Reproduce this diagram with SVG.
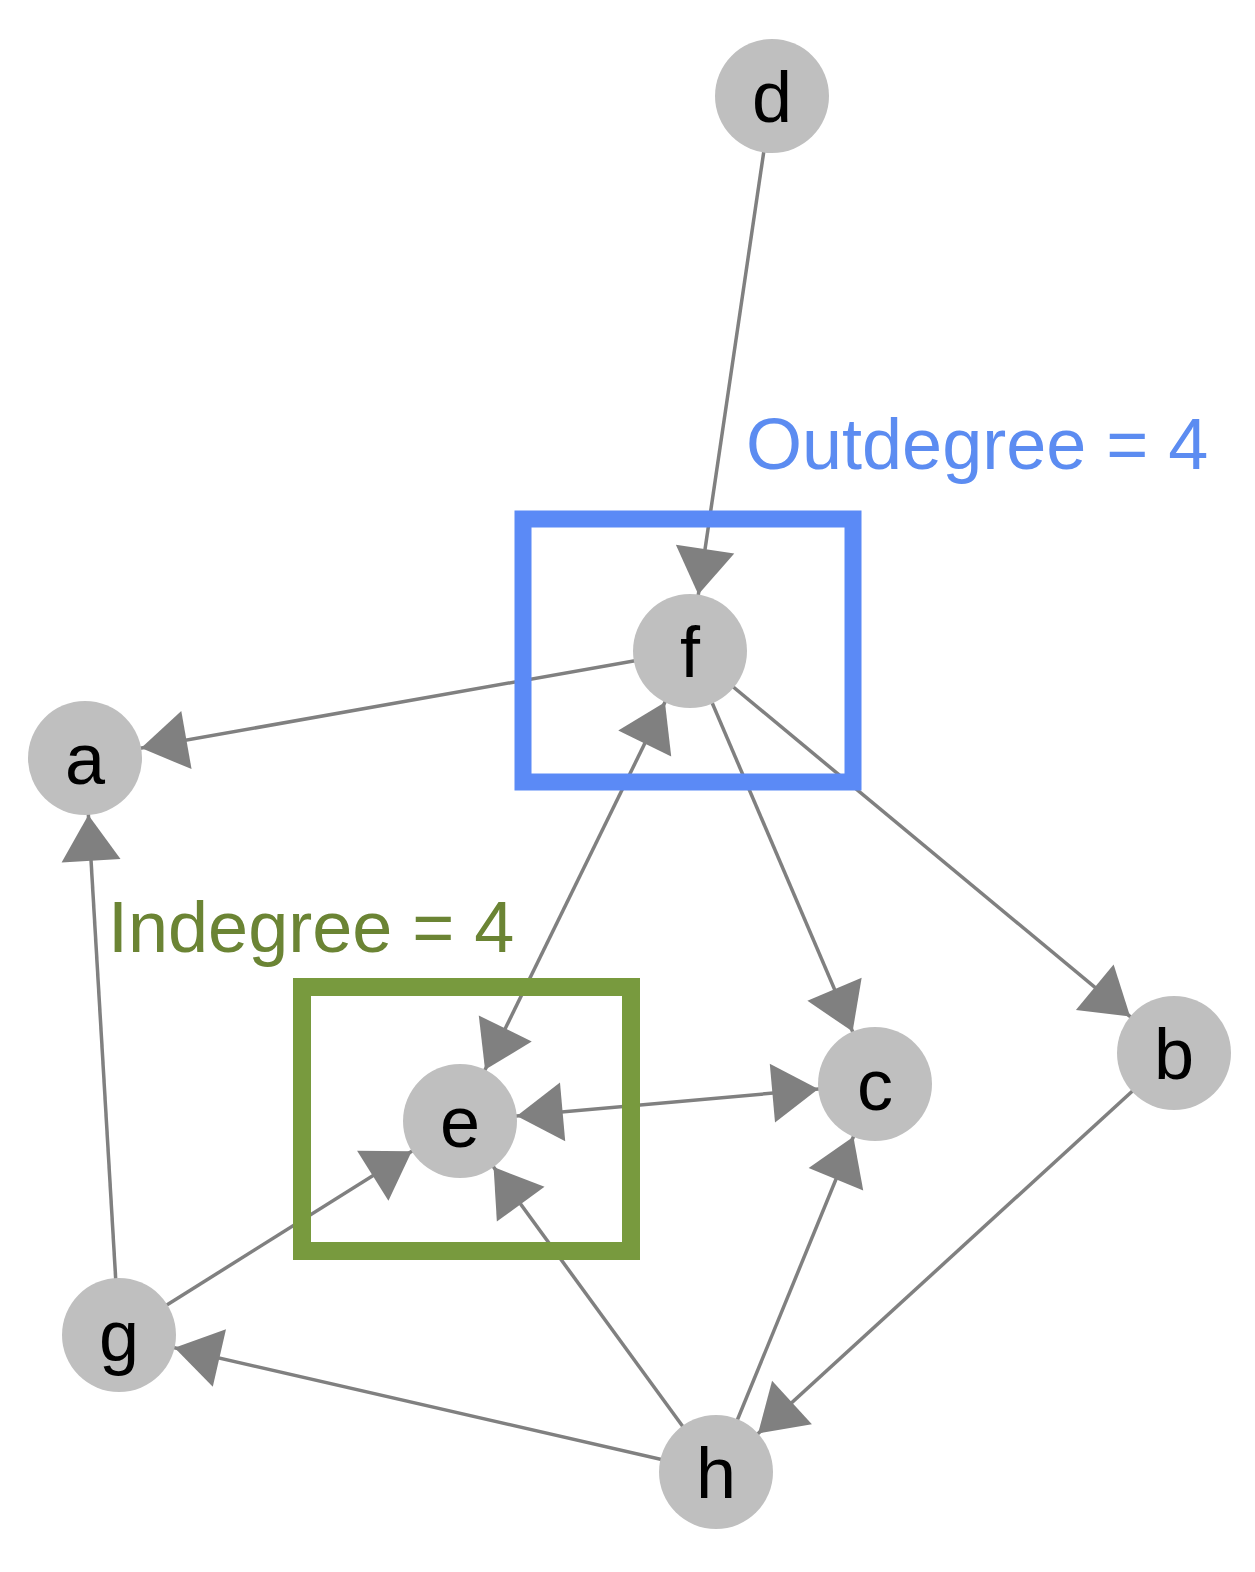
<svg xmlns="http://www.w3.org/2000/svg" width="1255" height="1572" viewBox="0 0 1255 1572">
<style>
.edge{stroke:#808080;stroke-width:3.5;fill:none}
.node circle{fill:#bfbfbf}
.node text{font-family:"Liberation Sans",Arial,sans-serif;font-size:72px;fill:#000;text-anchor:middle}
.lbl{font-family:"Liberation Sans",Arial,sans-serif;font-size:72px}
</style>
<defs>
<marker id="arr" markerUnits="userSpaceOnUse" markerWidth="10" markerHeight="10" refX="0" refY="0" orient="auto-start-reverse" overflow="visible">
<path d="M-103,-29.5 L-57,0 L-103,29.5 Z" fill="#808080"/>
</marker>
</defs>
<rect width="1255" height="1572" fill="#fff"/>
<g id="connectors">
<line class="edge" x1="772" y1="96" x2="690" y2="651" marker-end="url(#arr)"/>
<line class="edge" x1="690" y1="651" x2="85" y2="758" marker-end="url(#arr)"/>
<line class="edge" x1="690" y1="651" x2="875" y2="1084" marker-end="url(#arr)"/>
<line class="edge" x1="690" y1="651" x2="1174" y2="1053" marker-end="url(#arr)"/>
<line class="edge" x1="460" y1="1121" x2="690" y2="651" marker-start="url(#arr)" marker-end="url(#arr)"/>
<line class="edge" x1="460" y1="1121" x2="875" y2="1084" marker-start="url(#arr)" marker-end="url(#arr)"/>
<line class="edge" x1="119" y1="1335" x2="85" y2="758" marker-end="url(#arr)"/>
<line class="edge" x1="119" y1="1335" x2="460" y2="1121" marker-end="url(#arr)"/>
<line class="edge" x1="716" y1="1472" x2="119" y2="1335" marker-end="url(#arr)"/>
<line class="edge" x1="716" y1="1472" x2="460" y2="1121" marker-end="url(#arr)"/>
<line class="edge" x1="716" y1="1472" x2="875" y2="1084" marker-end="url(#arr)"/>
<line class="edge" x1="1174" y1="1053" x2="716" y2="1472" marker-end="url(#arr)"/>
</g>
<g id="highlights">
<rect x="523" y="519" width="330" height="263" fill="none" stroke="#5b8af6" stroke-width="17"/>
<rect x="302" y="987" width="329" height="264" fill="none" stroke="#789a3e" stroke-width="18"/>
<text class="lbl" x="746" y="469" fill="#5c8cf1">Outdegree = 4</text>
<text class="lbl" x="108" y="952" fill="#6b8434">Indegree = 4</text>
</g>
<g id="node-a" class="node"><circle cx="85" cy="758" r="57"/><text x="85" y="784">a</text></g>
<g id="node-b" class="node"><circle cx="1174" cy="1053" r="57"/><text x="1174" y="1079">b</text></g>
<g id="node-c" class="node"><circle cx="875" cy="1084" r="57"/><text x="875" y="1110">c</text></g>
<g id="node-d" class="node"><circle cx="772" cy="96" r="57"/><text x="772" y="122">d</text></g>
<g id="node-e" class="node"><circle cx="460" cy="1121" r="57"/><text x="460" y="1147">e</text></g>
<g id="node-f" class="node"><circle cx="690" cy="651" r="57"/><text x="690" y="677">f</text></g>
<g id="node-g" class="node"><circle cx="119" cy="1335" r="57"/><text x="119" y="1361">g</text></g>
<g id="node-h" class="node"><circle cx="716" cy="1472" r="57"/><text x="716" y="1498">h</text></g>
</svg>
